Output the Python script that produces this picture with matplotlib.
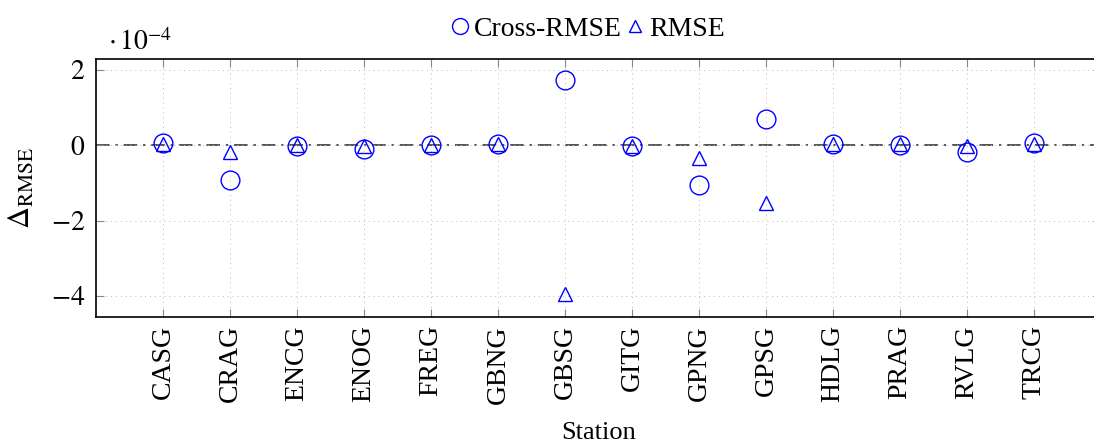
import matplotlib
matplotlib.use("Agg")
import matplotlib.pyplot as plt

plt.rcParams['font.family'] = ['Liberation Serif', 'DejaVu Serif']
plt.rcParams['mathtext.fontset'] = 'stix'

# station names and values (in units of 1e-4)
stations = ["CASG", "CRAG", "ENCG", "ENOG", "FREG", "GBNG", "GBSG",
            "GITG", "GPNG", "GPSG", "HDLG", "PRAG", "RVLG", "TRCG"]
cross_rmse = [0.05, -0.93, -0.03, -0.10, 0.00, 0.02, 1.73,
              -0.03, -1.05, 0.70, 0.02, 0.01, -0.17, 0.07]
rmse = [0.03, -0.18, 0.00, -0.03, 0.00, 0.02, -3.95,
        -0.01, -0.33, -1.52, 0.02, 0.02, -0.02, 0.04]

fig = plt.figure(figsize=(10.94, 4.45), dpi=100)
ax = fig.add_axes([96/1094, 1 - 317/445, (1101 - 96)/1094, (317 - 59)/445])

x = list(range(len(stations)))

ax.axhline(0, color="#555555", lw=1.4, dashes=(7, 3, 1.2, 3), zorder=1)
ax.plot(x, cross_rmse, ls="none", marker="o", ms=13.5, mfc="none", mec="blue",
        mew=1.0, label="Cross-RMSE", zorder=3)
ax.plot(x, rmse, ls="none", marker="^", ms=10, mfc="none", mec="blue",
        mew=1.0, label="RMSE", zorder=3)

ax.set_xlim(-1, 14)
ax.set_ylim(-4.56, 2.29)
ax.set_yticks([-4, -2, 0, 2])
ax.set_yticklabels([r"$-4$", r"$-2$", r"$0$", r"$2$"])
ax.set_xticks(x)
ax.set_xticklabels(stations, rotation=90)

ax.grid(True, ls=(0, (1, 4)), color="#bbbbbb", lw=0.7)
ax.tick_params(axis="both", direction="in", labelsize=20, color="#888888",
               length=6, top=True, right=True)
ax.tick_params(axis="x", pad=6)
ax.tick_params(axis="y", pad=8)

for s in ax.spines.values():
    s.set_linewidth(1.2)

ax.set_xlabel("Station", fontsize=19, labelpad=13)
ax.set_ylabel(r"$\Delta_{\mathrm{RMSE}}$", fontsize=22, labelpad=10)

fig.text(108/1094, 1 - 50/445, r"$\cdot\,10^{-4}$", fontsize=20,
         va="baseline", ha="left")

fig.legend(loc="upper center", bbox_to_anchor=(0.535, 1.02), ncol=2,
           frameon=False, fontsize=20, handletextpad=0.0,
           columnspacing=0.0, handlelength=1.0, markerscale=0.85)

fig.savefig("out.png", dpi=100)
